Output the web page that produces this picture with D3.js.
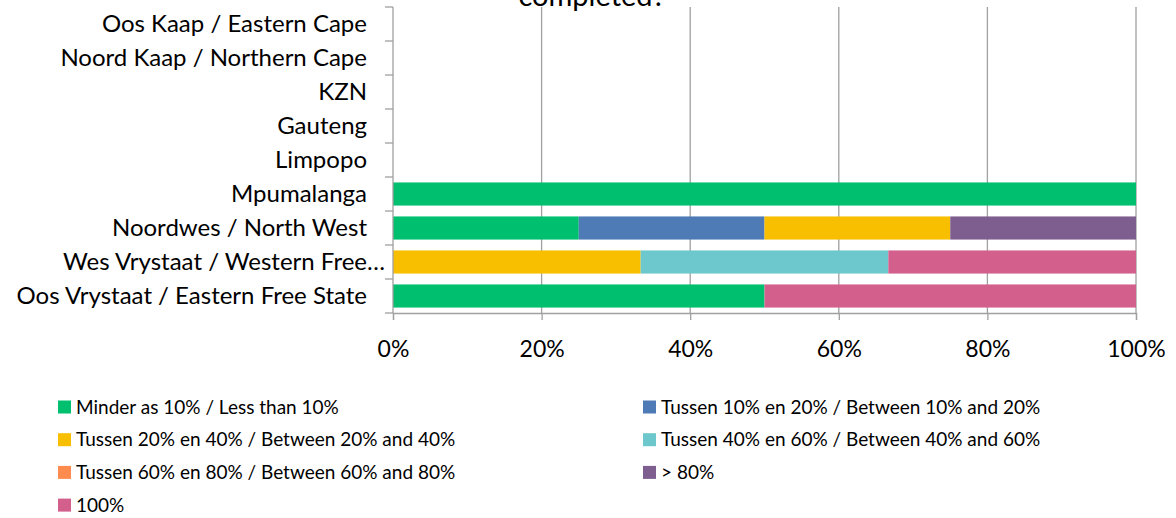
<!DOCTYPE html>
<html>
<head>
<meta charset="UTF-8">
<title>Stacked bar</title>
<script src="https://cdn.jsdelivr.net/npm/d3@7"></script>
<style>
  body { margin: 0; background: #fff; }
  text { font-family: Lato, "Liberation Sans", sans-serif; fill: #000; }
</style>
</head>
<body>
<script>
var w = 1176, h = 518;

// categories, top to bottom
var regions = ["Oos Kaap / Eastern Cape", "Noord Kaap / Northern Cape", "KZN", "Gauteng",
  "Limpopo", "Mpumalanga", "Noordwes / North West", "Wes Vrystaat / Western Free State",
  "Oos Vrystaat / Eastern Free State"];

var seriesNames = ["Minder as 10% / Less than 10%", "Tussen 10% en 20% / Between 10% and 20%",
  "Tussen 20% en 40% / Between 20% and 40%", "Tussen 40% en 60% / Between 40% and 60%",
  "Tussen 60% en 80% / Between 60% and 80%", "> 80%", "100%"];

// responses per region (same order as regions)
var lessThan10 = [0, 0, 0, 0, 0, 1, 1, 0, 1];
var from10to20 = [0, 0, 0, 0, 0, 0, 1, 0, 0];
var from20to40 = [0, 0, 0, 0, 0, 0, 1, 1, 0];
var from40to60 = [0, 0, 0, 0, 0, 0, 0, 1, 0];
var from60to80 = [0, 0, 0, 0, 0, 0, 0, 0, 0];
var over80     = [0, 0, 0, 0, 0, 0, 1, 0, 0];
var full100    = [0, 0, 0, 0, 0, 0, 0, 1, 1];

var xTicks = [0, 0.2, 0.4, 0.6, 0.8, 1];
var colors = ["#00bf6f", "#4e7ab5", "#f8be00", "#6cc8cc", "#ff8b4f", "#7e5e8f", "#d35f8d"];

var allSeries = [lessThan10, from10to20, from20to40, from40to60, from60to80, over80, full100];
var rows = regions.map(function(r, i) {
  var o = { region: r };
  seriesNames.forEach(function(s, j) { o[s] = allSeries[j][i]; });
  return o;
});

var stacked = d3.stack().keys(seriesNames).offset(d3.stackOffsetExpand)(rows);

var margin = { top: 7, left: 393 };
var plotBottom = 313;

var x = d3.scaleLinear().domain([0, 1]).range([margin.left, 1136]);
var y = d3.scaleBand().domain(regions).range([margin.top, plotBottom]).paddingInner(0.32).paddingOuter(0.16);

var svg = d3.select("body").append("svg").attr("width", w).attr("height", h);

// title (only its last line shows at the top edge)
svg.append("text").attr("x", 592).attr("y", 6).attr("text-anchor", "middle")
  .style("font-size", "29px").text("completed?");

// grid
svg.append("g").selectAll("line").data(xTicks.slice(1)).enter().append("line")
  .attr("x1", function(d) { return x(d); }).attr("x2", function(d) { return x(d); })
  .attr("y1", margin.top).attr("y2", plotBottom)
  .attr("stroke", "#a0a0a0").attr("stroke-width", 1.3);

// bars
svg.append("g").selectAll("g").data(stacked).enter().append("g")
  .attr("fill", function(d, i) { return colors[i]; })
  .selectAll("rect").data(function(d) { return d; }).enter().append("rect")
  .attr("x", function(d) { return x(d[0]); })
  .attr("y", function(d) { return y(d.data.region); })
  .attr("width", function(d) { return Math.max(0, x(d[1]) - x(d[0])); })
  .attr("height", y.bandwidth());

// y axis
var yAxis = svg.append("g").attr("transform", "translate(" + margin.left + ",0)");
yAxis.append("line").attr("x1", 0).attr("x2", 0).attr("y1", margin.top).attr("y2", plotBottom)
  .attr("stroke", "#a0a0a0").attr("stroke-width", 1.3);
var bounds = regions.map(function(r) { return y(r) - y.step() * y.paddingInner() / 2; });
bounds.push(plotBottom);
yAxis.selectAll(".tk").data(bounds).enter().append("line")
  .attr("x1", -8).attr("x2", 0)
  .attr("y1", function(d) { return d; }).attr("y2", function(d) { return d; })
  .attr("stroke", "#a0a0a0").attr("stroke-width", 1.3);
yAxis.selectAll("text").data(regions).enter().append("text")
  .attr("x", function(d) { return d.length > 32 && d.indexOf("Wes") === 0 ? -8 : -26; })
  .attr("y", function(d) { return y(d) + y.bandwidth() / 2; })
  .attr("dy", "0.35em").attr("text-anchor", "end").style("font-size", "24px")
  .text(function(d) { return d.indexOf("Wes") === 0 ? "Wes Vrystaat / Western Free…" : d; });

// x axis
var xAxis = svg.append("g").attr("transform", "translate(0," + plotBottom + ")");
xAxis.call(d3.axisBottom(x).tickValues(xTicks).tickSize(7).tickFormat(d3.format(".0%")));
xAxis.select(".domain").attr("stroke", "#a0a0a0").attr("stroke-width", 1.3);
xAxis.selectAll(".tick line").attr("stroke", "#a0a0a0").attr("stroke-width", 1.3);
xAxis.selectAll(".tick text").attr("y", 28).style("font-size", "23px")
  .style("font-family", "Lato, 'Liberation Sans', sans-serif").attr("fill", "#000");

// legend
var legend = svg.append("g");
var items = legend.selectAll("g").data(seriesNames).enter().append("g")
  .attr("transform", function(d, i) {
    return "translate(" + (i % 2 === 0 ? 58 : 643) + "," + (407 + Math.floor(i / 2) * 32.7) + ")";
  });
items.append("rect").attr("x", 0).attr("y", -6.5).attr("width", 13).attr("height", 13)
  .attr("fill", function(d, i) { return colors[i]; });
items.append("text").attr("x", 18).attr("dy", "0.35em").style("font-size", "19px")
  .text(function(d) { return d; });
</script>
</body>
</html>
